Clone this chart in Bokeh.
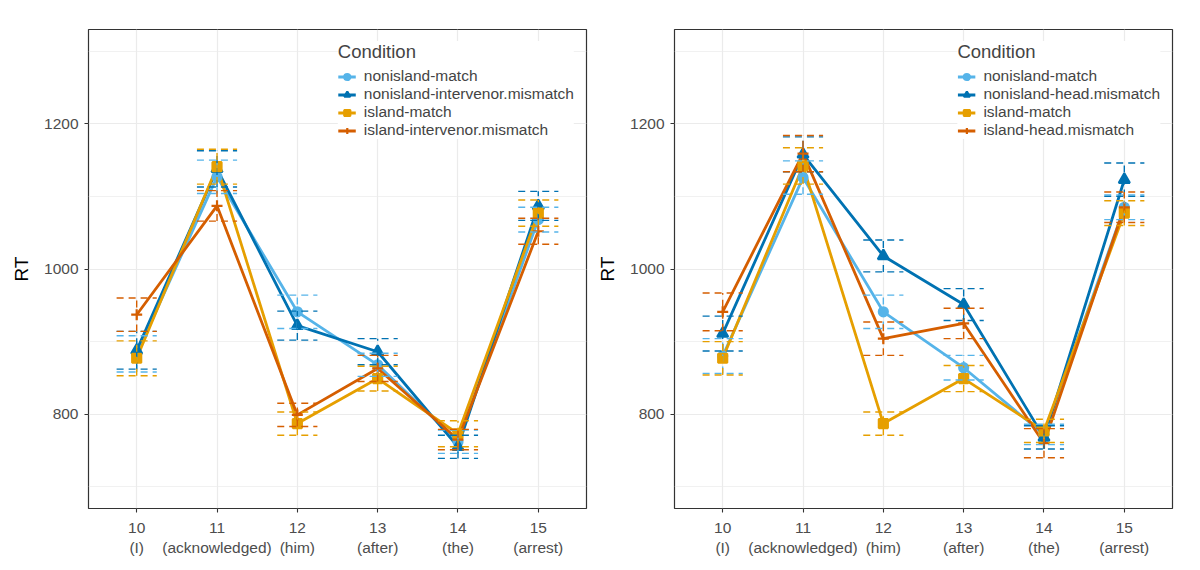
from bokeh.embed import file_html
from bokeh.layouts import row
from bokeh.models import ColumnDataSource, FixedTicker, Legend, LegendItem
from bokeh.plotting import figure
from bokeh.resources import INLINE

positions = [10, 11, 12, 13, 14, 15]
words = ["I", "acknowledged", "him", "after", "the", "arrest"]

# left panel: intervenor experiment
intervenor_labels = ["nonisland-match", "nonisland-intervenor.mismatch",
                     "island-match", "island-intervenor.mismatch"]
intervenor_nonisland_match = [883, 1127, 941, 868, 762, 1068]
intervenor_nonisland_match_se = [25, 23, 23, 16, 16, 17]
intervenor_nonisland_mismatch = [888, 1138, 922, 886, 755, 1087]
intervenor_nonisland_mismatch_se = [26, 25, 20, 18, 16, 20]
intervenor_island_match = [877, 1141, 787, 849, 773, 1077]
intervenor_island_match_se = [24, 24, 16, 17, 18, 18]
intervenor_island_mismatch = [937, 1087, 799, 863, 765, 1052]
intervenor_island_mismatch_se = [23, 21, 16, 18, 14, 18]

# right panel: head experiment
head_labels = ["nonisland-match", "nonisland-head.mismatch",
               "island-match", "island-head.mismatch"]
head_nonisland_match = [880, 1126, 941, 864, 772, 1085]
head_nonisland_match_se = [24, 23, 23, 17, 14, 17]
head_nonisland_mismatch = [911, 1158, 1018, 951, 768, 1123]
head_nonisland_mismatch_se = [24, 24, 22, 22, 16, 23]
head_island_match = [877, 1142, 787, 849, 777, 1077]
head_island_match_se = [23, 25, 16, 18, 16, 17]
head_island_mismatch = [941, 1159, 904, 925, 760, 1085]
head_island_mismatch_se = [26, 25, 23, 21, 20, 21]

colors = ["#56B4E9", "#0072B2", "#E69F00", "#D55E00"]
markers = ["circle", "triangle", "square", "cross"]
marker_sizes = [9, 11, 9, 11]
FONT = "Liberation Sans"


def make_panel(labels, means, ses, border_left, border_right):
    p = figure(frame_width=498, frame_height=479, x_range=(9.4, 15.6), y_range=(670, 1330),
               output_backend="svg", toolbar_location=None,
               min_border_left=border_left, min_border_right=border_right,
               min_border_top=29, min_border_bottom=52)

    lines, points = [], []
    for m, c in zip(means, colors):
        lines.append(p.line(positions, m, line_width=2.8, color=c))
    for m, c, mk, sz in zip(means, colors, markers, marker_sizes):
        points.append(p.scatter(positions, m, marker=mk, size=sz, color=c, line_width=2.2))

    # dashed error bars (mean +/- se)
    for m, s, c in zip(means, ses, colors):
        src = ColumnDataSource(dict(
            x=positions,
            lo=[a - b for a, b in zip(m, s)],
            hi=[a + b for a, b in zip(m, s)],
            x0=[x - 0.25 for x in positions],
            x1=[x + 0.25 for x in positions],
        ))
        p.segment(x0="x", y0="lo", x1="x", y1="hi", source=src, color=c, line_width=1.4, line_dash="7 5")
        p.segment(x0="x0", y0="hi", x1="x1", y1="hi", source=src, color=c, line_width=1.4, line_dash="7 5")
        p.segment(x0="x0", y0="lo", x1="x1", y1="lo", source=src, color=c, line_width=1.4, line_dash="7 5")

    items = [LegendItem(label=lab, renderers=[l, pt]) for lab, l, pt in zip(labels, lines, points)]
    legend = Legend(items=items, title="Condition", location="top_right")
    legend.title_text_font = FONT
    legend.title_text_font_size = "18.5px"
    legend.title_text_font_style = "normal"
    legend.title_standoff = 4
    legend.label_text_font = FONT
    legend.label_text_font_size = "15.5px"
    legend.glyph_width = 18
    legend.glyph_height = 15
    legend.label_height = 15
    legend.label_standoff = 8
    legend.spacing = 0
    legend.padding = 10
    legend.margin = 12
    legend.border_line_color = None
    legend.background_fill_color = "white"
    legend.background_fill_alpha = 1
    p.add_layout(legend)

    p.xaxis.ticker = FixedTicker(ticks=positions)
    p.xaxis.major_label_overrides = {x: f"{x}\n({w})" for x, w in zip(positions, words)}
    p.yaxis.ticker = FixedTicker(ticks=[800, 1000, 1200], minor_ticks=[700, 900, 1100, 1300])
    p.yaxis.axis_label = "RT"

    p.xgrid.grid_line_color = "#EBEBEB"
    p.xgrid.grid_line_width = 1.2
    p.ygrid.grid_line_color = "#EBEBEB"
    p.ygrid.grid_line_width = 1.2
    p.ygrid.minor_grid_line_color = "#EBEBEB"
    p.ygrid.minor_grid_line_width = 0.7

    for ax in (p.xaxis, p.yaxis):
        ax.axis_line_color = None
        ax.major_tick_line_color = "#333333"
        ax.major_tick_line_width = 1.1
        ax.major_tick_out = 4
        ax.major_tick_in = 0
        ax.minor_tick_line_color = None
        ax.major_label_text_font = FONT
        ax.major_label_text_font_size = "15.5px"
        ax.major_label_text_color = "#4D4D4D"
        ax.major_label_standoff = 6
        ax.axis_label_text_font = FONT
        ax.axis_label_text_font_size = "19px"
        ax.axis_label_text_font_style = "normal"
        ax.axis_label_text_color = "black"
        ax.axis_label_standoff = 9

    p.outline_line_color = "#333333"
    p.outline_line_width = 1.2
    p.background_fill_color = "white"
    p.border_fill_color = "white"
    return p


left = make_panel(
    intervenor_labels,
    [intervenor_nonisland_match, intervenor_nonisland_mismatch, intervenor_island_match, intervenor_island_mismatch],
    [intervenor_nonisland_match_se, intervenor_nonisland_mismatch_se, intervenor_island_match_se,
     intervenor_island_mismatch_se],
    88, 8)
right = make_panel(
    head_labels,
    [head_nonisland_match, head_nonisland_mismatch, head_island_match, head_island_mismatch],
    [head_nonisland_match_se, head_nonisland_mismatch_se, head_island_match_se, head_island_mismatch_se],
    78, 13)

layout = row(left, right)
open("out.html", "w").write(file_html(layout, INLINE))
